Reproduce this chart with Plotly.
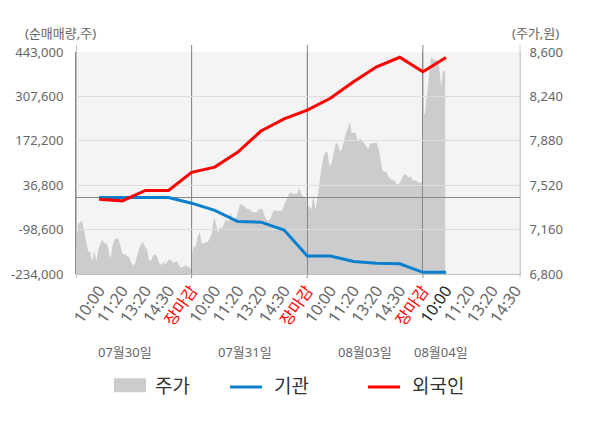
import plotly.graph_objects as go

# trading days and the intraday tick labels of each day
days = ["07월30일", "07월31일", "08월03일", "08월04일"]
time_labels = ["10:00", "11:20", "13:20", "14:30", "장마감"]

# price (원), intraday samples per day
price_d1 = [7020, 7210, 7220, 7230, 7150, 7050, 6980, 6980, 6900, 6990, 6910, 7000,
            7050, 7080, 7050, 7050, 7000, 6920, 7030, 7080, 7090, 7080, 7010, 6960,
            6960, 6950, 6940, 6900, 6870, 6880, 6950, 7000, 7040, 7060, 7020, 7000,
            6910, 6910, 6950, 6960, 6940, 6890, 6870, 6900, 6880, 6900, 6920, 6910,
            6890, 6900, 6900, 6860, 6850, 6860, 6870, 6860, 6850, 6830]
price_d2 = [6950, 7020, 7020, 7100, 7140, 7050, 7050, 7060, 7060, 7090, 7130, 7260,
            7210, 7130, 7180, 7170, 7210, 7250, 7220, 7300, 7260, 7240, 7260, 7320,
            7370, 7360, 7350, 7330, 7330, 7320, 7300, 7300, 7300, 7320, 7330, 7320,
            7270, 7240, 7230, 7250, 7300, 7320, 7310, 7310, 7310, 7330, 7380, 7410,
            7450, 7460, 7450, 7450, 7450, 7500, 7450, 7430, 7420, 7420]
price_d3 = [7350, 7350, 7320, 7440, 7320, 7410, 7550, 7660, 7750, 7790, 7790, 7670,
            7700, 7780, 7860, 7860, 7800, 7810, 7890, 7940, 7980, 8030, 7940, 7950,
            7940, 7870, 7900, 7880, 7860, 7840, 7810, 7860, 7860, 7860, 7870, 7830,
            7750, 7640, 7630, 7630, 7590, 7570, 7560, 7560, 7530, 7530, 7550, 7590,
            7610, 7600, 7580, 7590, 7560, 7560, 7550, 7540, 7540, 7560]
price_d4 = [8080, 8100, 8250, 8400, 8560, 8540, 8540, 8530, 8480, 8320, 8450, 8440]

# cumulative net buying (주) at each tick label
foreign = [-6000, -11000, 21000, 21000, 76000, 92000, 138000, 202000, 239000, 266000,
           302000, 352000, 398000, 427000, 383000, 426000]
institution = [-1000, -1000, -1000, -1000, -18000, -40000, -74000, -76000, -100000,
               -179000, -179000, -196000, -201000, -203000, -229000, -229000]

left_ticks = [-234000, -98600, 36800, 172200, 307600, 443000]
right_ticks = [6800, 7160, 7520, 7880, 8240, 8600]

FONT = "Noto Sans, Noto Sans CJK KR, sans-serif"
GRAY = "#666666"
n_slot = len(price_d1) - 1
x_max = 19.2

# x positions: each day spans 5 units, ticks at 1..5 of each day
price_x, price_y = [], []
for d, vals in enumerate([price_d1, price_d2, price_d3, price_d4]):
    for k, v in enumerate(vals):
        price_x.append(d * 5 + 5 * k / n_slot)
        price_y.append(v)
flow_x = list(range(1, len(foreign) + 1))

tick_vals, tick_text = [], []
for d in range(len(days)):
    for k, lab in enumerate(time_labels, start=1):
        v = d * 5 + k
        if v > x_max:
            continue
        if lab == "장마감":
            txt = f'<span style="color:#ff0000">{lab}</span>'
        elif d == len(days) - 1 and k == 1:
            txt = f'<span style="color:#222222">{lab}</span>'
        else:
            txt = lab
        tick_vals.append(v)
        tick_text.append(txt)
day_bounds = [d * 5 for d in range(1, len(days))]

fig = go.Figure()
fig.add_trace(go.Scatter(x=price_x, y=price_y, mode="lines", fill="tozeroy",
                         fillcolor="#cccccc", line=dict(width=0, color="#cccccc"),
                         xaxis="x", yaxis="y", hoverinfo="skip"))
fig.add_trace(go.Scatter(x=flow_x, y=institution, mode="lines",
                         line=dict(color="#0a7fcc", width=3),
                         xaxis="x2", yaxis="y2"))
fig.add_trace(go.Scatter(x=flow_x, y=foreign, mode="lines",
                         line=dict(color="#ff0000", width=3),
                         xaxis="x2", yaxis="y2"))

shapes = [dict(type="rect", xref="paper", yref="paper", x0=0, x1=1, y0=0, y1=1,
               fillcolor="#f4f4f4", line=dict(width=0), layer="below")]
# separator/axis stubs poking out above and below the plot area
for xb in [0] + day_bounds:
    shapes.append(dict(type="line", xref="x", yref="paper", x0=xb, x1=xb,
                       y0=-0.018, y1=1.032, line=dict(color="#888888", width=1),
                       layer="below"))
shapes.append(dict(type="line", xref="paper", yref="paper", x0=1, x1=1,
                   y0=-0.018, y1=1.032, line=dict(color="#cccccc", width=1),
                   layer="below"))

# legend drawn by hand
shapes += [
    dict(type="rect", xref="paper", yref="paper", x0=0.0856, x1=0.1577,
         y0=-0.533, y1=-0.470, fillcolor="#cccccc", line=dict(width=0)),
    dict(type="line", xref="paper", yref="paper", x0=0.3468, x1=0.4189,
         y0=-0.509, y1=-0.509, line=dict(color="#0a7fcc", width=3)),
    dict(type="line", xref="paper", yref="paper", x0=0.6577, x1=0.7297,
         y0=-0.509, y1=-0.509, line=dict(color="#ff0000", width=3)),
]

annotations = [
    dict(text="(순매매량,주)", x=-0.034, y=1.0856, xref="paper", yref="paper",
         xanchor="center", yanchor="middle", showarrow=False,
         font=dict(size=13, color=GRAY)),
    dict(text="(주가,원)", x=1.035, y=1.0856, xref="paper", yref="paper",
         xanchor="center", yanchor="middle", showarrow=False,
         font=dict(size=13, color=GRAY)),
]
for name, xd in zip(days, [2.1, 7.3, 12.5, 15.8]):
    annotations.append(dict(text=name, x=xd, y=-0.351, xref="x", yref="paper",
                            xanchor="center", yanchor="middle", showarrow=False,
                            font=dict(size=13, color=GRAY)))
for name, xl in zip(["주가", "기관", "외국인"], [0.1734, 0.4408, 0.7523]):
    annotations.append(dict(text=name, x=xl, y=-0.5045, xref="paper", yref="paper",
                            xanchor="left", yanchor="middle", showarrow=False,
                            font=dict(size=19, color="#333333")))

# the page body adds an 8px offset, so the figure is 8px smaller
fig.update_layout(
    width=592, height=420,
    margin=dict(l=68, r=80, t=44, b=154),
    paper_bgcolor="white", plot_bgcolor="rgba(0,0,0,0)",
    showlegend=False,
    font=dict(family=FONT, size=14, color=GRAY),
    shapes=shapes, annotations=annotations,
    xaxis=dict(domain=[0, 1], range=[0, x_max], anchor="y", automargin=False,
               tickvals=tick_vals, ticktext=tick_text, tickangle=-55,
               showgrid=False, zeroline=False, ticks="",
               showline=True, linecolor="#bbbbbb", tickfont=dict(size=16, color=GRAY)),
    yaxis=dict(domain=[0, 1], range=[6800, 8600], side="right", anchor="x",
               automargin=False, tickfont=dict(size=13, color=GRAY),
               tickvals=right_ticks, tickformat=",", showgrid=False, zeroline=False,
               showline=True, linecolor="#cccccc", ticks="", ticklabelstandoff=6),
    xaxis2=dict(domain=[0, 1], range=[0, x_max], anchor="y2", matches="x",
                automargin=False,
                tickvals=day_bounds, showticklabels=False, ticks="",
                showgrid=True, gridcolor="#888888", gridwidth=1,
                zeroline=False, showline=False),
    yaxis2=dict(domain=[0, 1], range=[left_ticks[0], left_ticks[-1]], side="left",
                anchor="x2", automargin=False, tickvals=left_ticks,
                ticktext=[f"{v:,}" for v in left_ticks],
                tickfont=dict(size=13, color=GRAY),
                showgrid=True, gridcolor="#dddddd", gridwidth=1,
                zeroline=True, zerolinecolor="#888888", zerolinewidth=1,
                showline=True, linecolor="#888888", ticks="", ticklabelstandoff=9),
)

fig.write_html("out.html")
